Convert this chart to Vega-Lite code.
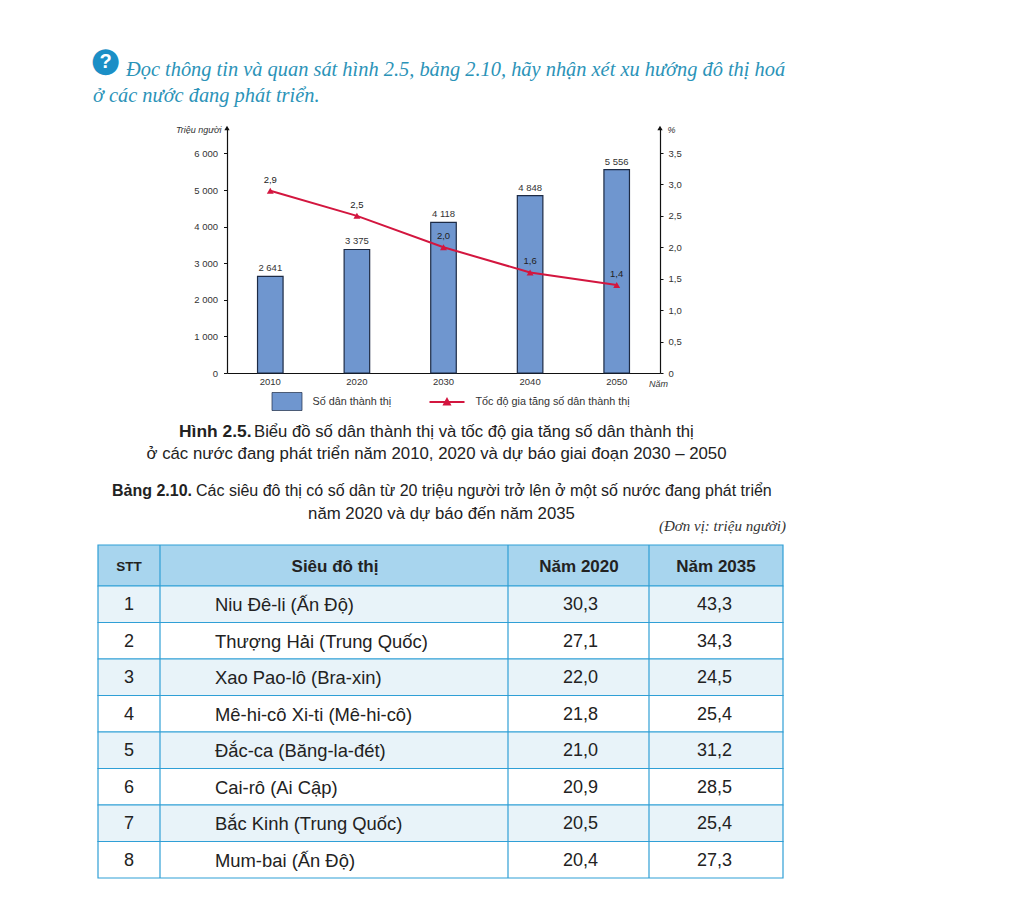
{"$schema":"https://vega.github.io/schema/vega-lite/v6.json","background":"white","padding":{"left":90,"top":44,"right":0,"bottom":0},"config":{"view":{"stroke":null},"locale":{"number":{"decimal":",","thousands":" ","grouping":[3],"currency":["",""]}},"text":{"font":"Liberation Sans"},"axis":{"labelFont":"Liberation Sans","titleFont":"Liberation Sans"},"legend":{"labelFont":"Liberation Sans"}},
"datasets":{
"intro":[{"line":1,"text":"Đọc thông tin và quan sát hình 2.5, bảng 2.10, hãy nhận xét xu hướng đô thị hoá"},{"line":2,"text":"ở các nước đang phát triển."}],
"icon":[{"line":1,"glyph":"●","sign":"?"}],
"urban":[{"year":"2010","pop":2641,"rate":2.9},{"year":"2020","pop":3375,"rate":2.5},{"year":"2030","pop":4118,"rate":2.0},{"year":"2040","pop":4848,"rate":1.6},{"year":"2050","pop":5556,"rate":1.4}],
"ends":[{"side":"left","top":1},{"side":"right","top":1}],
"fig":[{"line":1,"part":"bold","text":"Hình 2.5."},{"line":1,"part":"rest","text":"Biểu đồ số dân thành thị và tốc độ gia tăng số dân thành thị"},{"line":2,"part":"full","text":"ở các nước đang phát triển năm 2010, 2020 và dự báo giai đoạn 2030 – 2050"}],
"tab":[{"line":1,"part":"bold","text":"Bảng 2.10."},{"line":1,"part":"rest","text":"Các siêu đô thị có số dân từ 20 triệu người trở lên ở một số nước đang phát triển"},{"line":2,"part":"full","text":"năm 2020 và dự báo đến năm 2035"},{"line":2,"part":"unit","text":"(Đơn vị: triệu người)"}],
"head":[{"col":0,"column":"STT"},{"col":1,"column":"Siêu đô thị"},{"col":2,"column":"Năm 2020"},{"col":3,"column":"Năm 2035"}],
"seps":[{"col":1},{"col":2},{"col":3}],
"rows":[{"row":1},{"row":2},{"row":3},{"row":4},{"row":5},{"row":6},{"row":7},{"row":8}],
"cells":[{"row":1,"col":0,"text":"1"},{"row":1,"col":1,"text":"Niu Đê-li (Ấn Độ)"},{"row":1,"col":2,"text":"30,3"},{"row":1,"col":3,"text":"43,3"},
{"row":2,"col":0,"text":"2"},{"row":2,"col":1,"text":"Thượng Hải (Trung Quốc)"},{"row":2,"col":2,"text":"27,1"},{"row":2,"col":3,"text":"34,3"},
{"row":3,"col":0,"text":"3"},{"row":3,"col":1,"text":"Xao Pao-lô (Bra-xin)"},{"row":3,"col":2,"text":"22,0"},{"row":3,"col":3,"text":"24,5"},
{"row":4,"col":0,"text":"4"},{"row":4,"col":1,"text":"Mê-hi-cô Xi-ti (Mê-hi-cô)"},{"row":4,"col":2,"text":"21,8"},{"row":4,"col":3,"text":"25,4"},
{"row":5,"col":0,"text":"5"},{"row":5,"col":1,"text":"Đắc-ca (Băng-la-đét)"},{"row":5,"col":2,"text":"21,0"},{"row":5,"col":3,"text":"31,2"},
{"row":6,"col":0,"text":"6"},{"row":6,"col":1,"text":"Cai-rô (Ai Cập)"},{"row":6,"col":2,"text":"20,9"},{"row":6,"col":3,"text":"28,5"},
{"row":7,"col":0,"text":"7"},{"row":7,"col":1,"text":"Bắc Kinh (Trung Quốc)"},{"row":7,"col":2,"text":"20,5"},{"row":7,"col":3,"text":"25,4"},
{"row":8,"col":0,"text":"8"},{"row":8,"col":1,"text":"Mum-bai (Ấn Độ)"},{"row":8,"col":2,"text":"20,4"},{"row":8,"col":3,"text":"27,3"}]
},
"spacing":0,"bounds":"flush","resolve":{"scale":{"fill":"independent","stroke":"independent"}},
"vconcat":[
{"width":693,"height":72,"data":{"name":"intro"},"encoding":{"y":{"field":"line","type":"quantitative","axis":null,"scale":{"domain":[1,2],"range":[14,40],"nice":false,"zero":false}}},"layer":[
{"data":{"name":"icon"},"mark":{"type":"text","font":"DejaVu Sans","fontSize":34,"color":"#1b8fc6","dx":-334,"dy":-9},"encoding":{"text":{"field":"glyph"}}},
{"data":{"name":"icon"},"mark":{"type":"text","fontWeight":"bold","fontSize":20,"color":"white","dx":-334,"dy":-8},"encoding":{"text":{"field":"sign"}}},
{"transform":[{"filter":"datum.line==1"}],"mark":{"type":"text","font":"Liberation Serif","fontStyle":"italic","fontSize":20.4,"color":"#2b93b8","align":"left","dx":-313.5},"encoding":{"text":{"field":"text"}}},
{"transform":[{"filter":"datum.line==2"}],"mark":{"type":"text","font":"Liberation Serif","fontStyle":"italic","fontSize":20.4,"color":"#2b93b8","align":"left","dx":-346.5},"encoding":{"text":{"field":"text"}}}
]},
{"width":693,"height":245,"data":{"name":"urban"},"resolve":{"scale":{"x":"independent","y":"independent"},"axis":{"y":"independent"}},"layer":[
{"encoding":{"x":{"field":"year","type":"nominal","scale":{"type":"band","paddingInner":0,"paddingOuter":0,"range":[134,567]},"axis":{"title":"Năm","titleFontStyle":"italic","titleFontWeight":"normal","titleFontSize":9,"titleColor":"#333","titleX":565,"titleY":10,"titleAlign":"center","titleBaseline":"middle","labelAngle":0,"labelFontSize":9.5,"labelColor":"#333","labelPadding":3,"ticks":false,"domainColor":"#111","domainWidth":1.2}},"y":{"field":"pop","type":"quantitative","scale":{"domain":[0,6694],"nice":false},"axis":{"offset":-134,"title":"Triệu người","titleFontStyle":"italic","titleFontWeight":"normal","titleFontSize":9,"titleColor":"#333","titleAngle":0,"titleAlign":"right","titleBaseline":"middle","titleX":-6,"titleY":1,"values":[0,1000,2000,3000,4000,5000,6000],"format":",d","grid":false,"tickSize":3.5,"tickColor":"#111","labelFontSize":9.5,"labelColor":"#333","labelPadding":6,"domainColor":"#111","domainWidth":1.2}}},"layer":[
{"mark":{"type":"bar","width":{"band":0.295},"stroke":"#1d2b45","strokeWidth":1.2},"encoding":{"fill":{"datum":"Số dân thành thị","scale":{"range":["#6f96cf"]},"legend":{"title":null,"orient":"none","legendX":183.5,"legendY":263,"symbolType":"M-1.5,-0.9H1.5V0.9H-1.5Z","symbolSize":400,"symbolStrokeColor":"#1d2b45","symbolStrokeWidth":0.7,"labelOffset":15,"labelFontSize":10.8,"labelColor":"#333"}}}},
{"mark":{"type":"text","fontSize":9.5,"color":"#333","dy":-8},"encoding":{"text":{"field":"pop","type":"quantitative","format":",d"}}}
]},
{"encoding":{"x":{"field":"year","type":"nominal","scale":{"type":"band","paddingInner":0,"paddingOuter":0,"range":[134,567]},"axis":null},"y":{"field":"rate","type":"quantitative","scale":{"domain":[0,3.898],"nice":false},"axis":{"orient":"right","offset":-126,"title":"%","titleFontWeight":"normal","titleFontStyle":"italic","titleFontSize":9,"titleColor":"#333","titleAngle":0,"titleAlign":"left","titleBaseline":"middle","titleX":7,"titleY":1,"values":[0,0.5,1,1.5,2,2.5,3,3.5],"format":".1f","labelExpr":"datum.value==0?'0':datum.label","grid":false,"tickSize":3,"tickColor":"#111","labelFontSize":9.5,"labelColor":"#333","labelPadding":5,"domainColor":"#111","domainWidth":1.2}}},"layer":[
{"mark":{"type":"line","strokeWidth":2},"encoding":{"stroke":{"datum":"Tốc độ gia tăng số dân thành thị","scale":{"range":["#d3163f"]},"legend":{"title":null,"orient":"none","legendX":343,"legendY":263,"symbolType":"M-1.75,0H1.75M-0.3,0.25L0,-0.3L0.3,0.25Z","symbolSize":400,"symbolStrokeWidth":1.8,"symbolFillColor":"#d3163f","labelOffset":17.5,"labelFontSize":10.8,"labelColor":"#333"}}}},
{"mark":{"type":"point","shape":"triangle-up","filled":true,"size":48,"color":"#d3163f","opacity":1}},
{"mark":{"type":"text","fontSize":9.5,"color":"#222","dy":-11},"encoding":{"text":{"field":"rate","type":"quantitative","format":".1f"}}}
]},
{"data":{"name":"ends"},"mark":{"type":"point","shape":"triangle-up","filled":true,"size":28,"color":"#111","opacity":1},"encoding":{"x":{"field":"side","type":"nominal","scale":{"type":"point","padding":0,"domain":["left","right"],"range":[134,567]},"axis":null},"y":{"field":"top","type":"quantitative","scale":{"domain":[0,1],"nice":false},"axis":null}}}
]},
{"width":693,"height":97,"data":{"name":"fig"},"encoding":{"y":{"field":"line","type":"quantitative","axis":null,"scale":{"domain":[1,2],"range":[59,81],"nice":false,"zero":false}},"text":{"field":"text"}},"layer":[
{"transform":[{"filter":"datum.part=='bold'"}],"mark":{"type":"text","fontSize":17.4,"fontWeight":"bold","color":"#222","align":"left","dx":-260.5}},
{"transform":[{"filter":"datum.part=='rest'"}],"mark":{"type":"text","fontSize":16.7,"color":"#222","align":"left","dx":-185.5}},
{"transform":[{"filter":"datum.part=='full'"}],"mark":{"type":"text","fontSize":16.8,"color":"#222","dx":-3}}
]},
{"width":693,"height":75,"data":{"name":"tab"},"encoding":{"y":{"field":"line","type":"quantitative","axis":null,"scale":{"domain":[1,2],"range":[21,44],"nice":false,"zero":false}},"text":{"field":"text"}},"layer":[
{"transform":[{"filter":"datum.part=='bold'"}],"mark":{"type":"text","fontSize":16,"fontWeight":"bold","color":"#222","align":"left","dx":-327.5}},
{"transform":[{"filter":"datum.part=='rest'"}],"mark":{"type":"text","fontSize":16,"color":"#222","align":"left","dx":-243.5}},
{"transform":[{"filter":"datum.part=='full'"}],"mark":{"type":"text","fontSize":16.8,"color":"#222","dx":2}},
{"transform":[{"filter":"datum.part=='unit'"}],"mark":{"type":"text","font":"Liberation Serif","fontStyle":"italic","fontSize":15,"color":"#333","align":"right","dx":346.5,"dy":12}}
]},
{"width":693,"height":41,"resolve":{"scale":{"x":"independent"}},"layer":[
{"data":{"values":[{"band":"header"}]},"mark":{"type":"rect","fill":"#a8d5ee","stroke":"#2f9fd6","strokeWidth":1.2},"encoding":{"x":{"datum":0,"type":"quantitative","axis":null,"scale":{"domain":[0,1,2,3,4],"range":[5,67,415,556,690]}},"x2":{"datum":4}}},
{"data":{"name":"seps"},"mark":{"type":"rule","color":"#2f9fd6","strokeWidth":1.2},"encoding":{"x":{"field":"col","type":"quantitative","axis":null,"scale":{"domain":[0,1,2,3,4],"range":[5,67,415,556,690]}}}},
{"data":{"name":"head"},"transform":[{"filter":"datum.col==0"}],"mark":{"type":"text","fontSize":13.5,"fontWeight":"bold","color":"#222","dy":1},"encoding":{"x":{"field":"col","type":"quantitative","axis":null,"scale":{"domain":[0,1,2,3],"range":[36,242,486,623]}},"text":{"field":"column"}}},
{"data":{"name":"head"},"transform":[{"filter":"datum.col>0"}],"mark":{"type":"text","fontSize":17,"fontWeight":"bold","color":"#222","dy":1},"encoding":{"x":{"field":"col","type":"quantitative","axis":null,"scale":{"domain":[0,1,2,3],"range":[36,242,486,623]}},"text":{"field":"column"}}}
]},
{"width":693,"height":292,"resolve":{"scale":{"x":"independent"}},"encoding":{"y":{"field":"row","type":"ordinal","axis":null,"scale":{"type":"band","paddingInner":0,"paddingOuter":0,"domain":[1,2,3,4,5,6,7,8]}}},"layer":[
{"data":{"name":"rows"},"mark":{"type":"rect","stroke":"#2f9fd6","strokeWidth":1.2},"encoding":{"x":{"datum":0,"type":"quantitative","axis":null,"scale":{"domain":[0,1,2,3,4],"range":[5,67,415,556,690]}},"x2":{"datum":4},"fill":{"field":"row","type":"ordinal","legend":null,"scale":{"range":["#e8f3f9","#ffffff"]}}}},
{"data":{"name":"seps"},"mark":{"type":"rule","color":"#2f9fd6","strokeWidth":1.2},"encoding":{"y":null,"x":{"field":"col","type":"quantitative","axis":null,"scale":{"domain":[0,1,2,3,4],"range":[5,67,415,556,690]}}}},
{"data":{"name":"cells"},"transform":[{"filter":"datum.col!=1"}],"mark":{"type":"text","fontSize":18,"color":"#222","dy":1},"encoding":{"x":{"field":"col","type":"quantitative","axis":null,"scale":{"domain":[0,1,2,3],"range":[36,242,487.5,621.5]}},"text":{"field":"text"}}},
{"data":{"name":"cells"},"transform":[{"filter":"datum.col==1"}],"mark":{"type":"text","fontSize":18.4,"color":"#222","align":"left","dy":1},"encoding":{"x":{"field":"col","type":"quantitative","axis":null,"scale":{"domain":[0,1,2,3],"range":[36,122,486,623]}},"text":{"field":"text"}}}
]}
]}
